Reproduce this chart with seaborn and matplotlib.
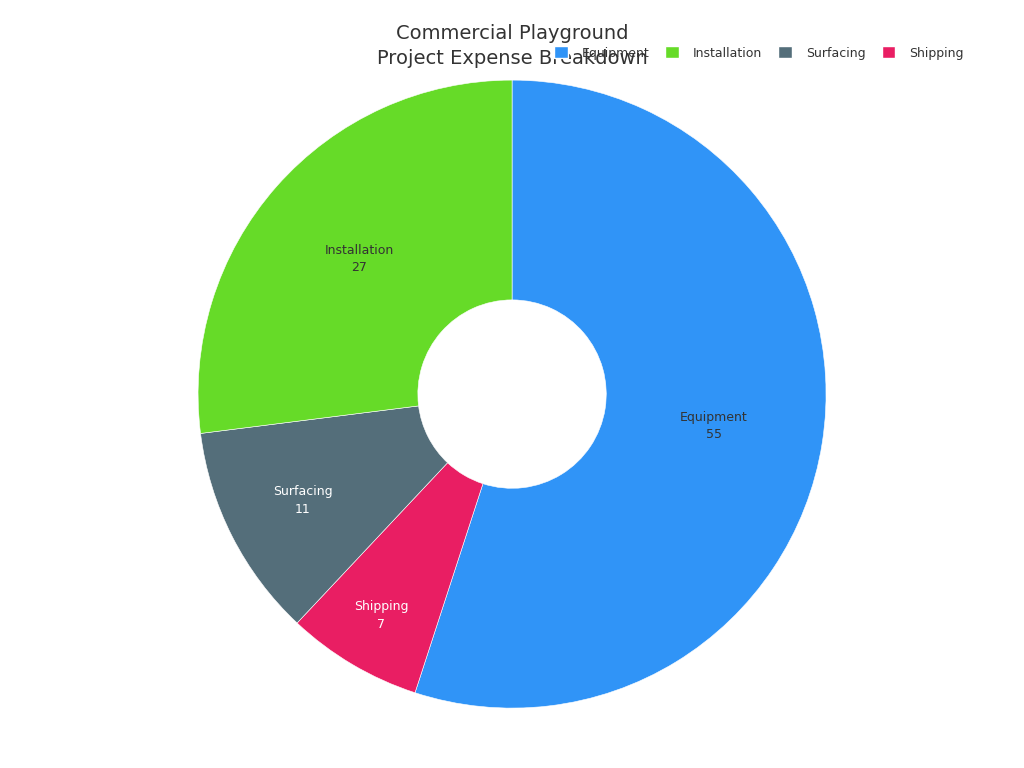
import seaborn as sns
import matplotlib.pyplot as plt
from matplotlib.patches import Patch

# данные
categories = ['Equipment', 'Shipping', 'Surfacing', 'Installation']
values = [55, 7, 11, 27]
colors = ['#3094F7', '#E91E63', '#546E7A', '#66DB28']
text_colors = ['#333333', 'white', 'white', '#333333']
label_push = [1.0, 1.26, 1.15, 1.0]   # мелкие сектора - подпись дальше от центра
legend_order = ['Equipment', 'Installation', 'Surfacing', 'Shipping']

sns.set_theme(style='white')
plt.rcParams['font.family'] = ['DejaVu Sans']

fig = plt.figure(figsize=(10.24, 7.68), dpi=100)
ax = fig.add_axes([0.1934, 0.078, 0.6133, 0.8177])

labels = [f'{c}\n{v}' for c, v in zip(categories, values)]
wedges, texts = ax.pie(values, labels=labels, colors=colors, startangle=90,
                       counterclock=False, labeldistance=0.65,
                       wedgeprops=dict(width=0.7, edgecolor='white', linewidth=0.4),
                       textprops=dict(fontsize=9, ha='center', va='center',
                                      linespacing=1.45))
for t, c, k in zip(texts, text_colors, label_push):
    t.set_color(c)
    x, y = t.get_position()
    t.set_position((x * k, y * k))
ax.set_xlim(-1, 1)
ax.set_ylim(-1, 1)
ax.set_aspect('equal')

fig.text(0.5, 0.94, 'Commercial Playground\nProject Expense Breakdown',
         ha='center', va='center', fontsize=14, color='#333333', linespacing=1.45)

handles = [Patch(facecolor=colors[categories.index(n)], label=n) for n in legend_order]
fig.legend(handles=handles, loc='center', bbox_to_anchor=(0.741, 0.931), ncol=4,
           frameon=False, fontsize=9, handlelength=1.1, handleheight=1.1,
           columnspacing=1.3, handletextpad=1.1, labelcolor='#333333')

fig.savefig('out.png', dpi=100)
